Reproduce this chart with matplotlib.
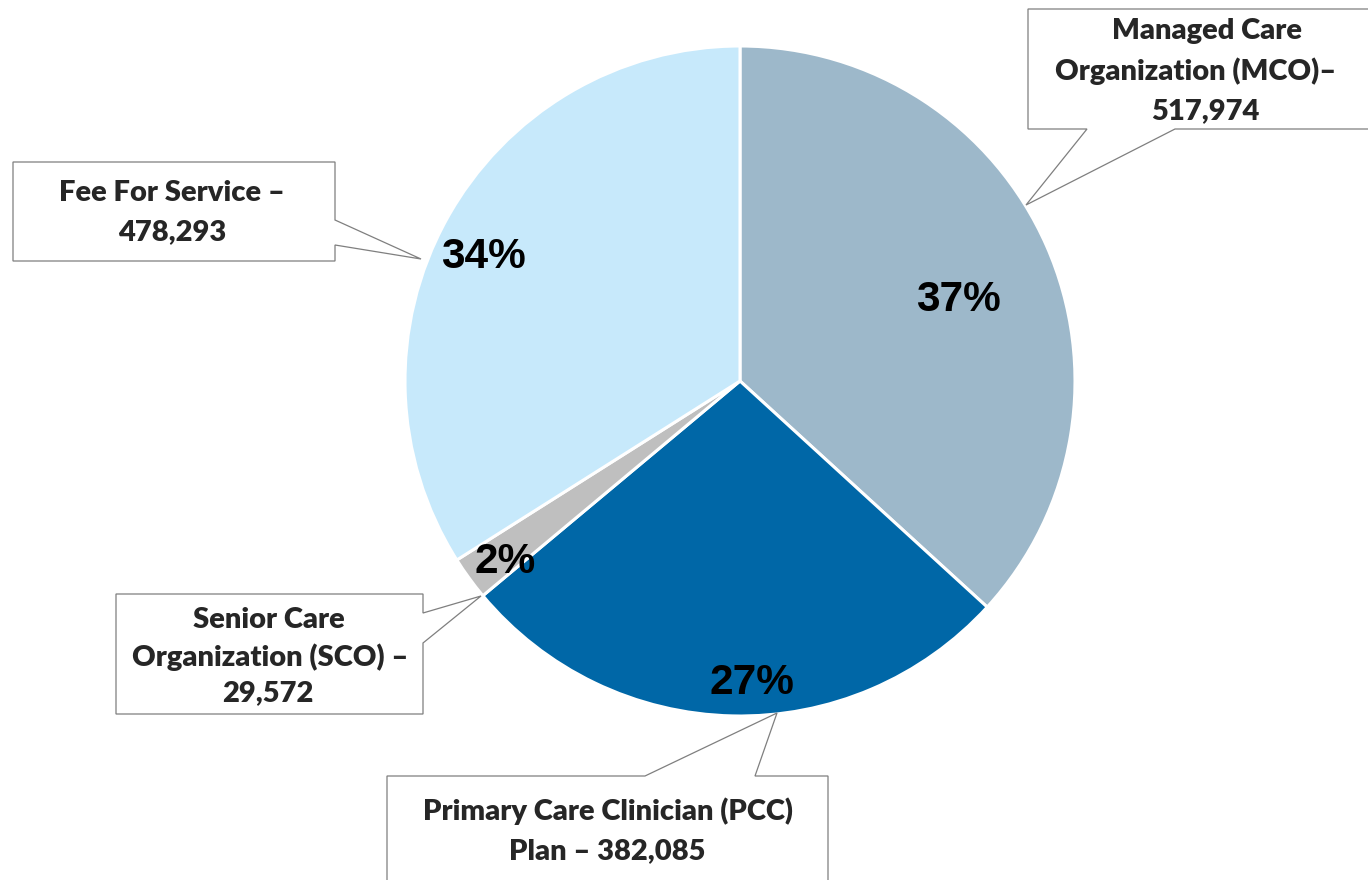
import numpy as np
import matplotlib
matplotlib.use("Agg")
import matplotlib.pyplot as plt
from matplotlib.patches import Polygon

# ---- data ----
categories = ["Managed Care Organization (MCO)", "Primary Care Clinician (PCC) Plan",
              "Senior Care Organization (SCO)", "Fee For Service"]
values = [517974, 382085, 29572, 478293]
colors = ["#9DB8CA", "#0067A7", "#BFBFBF", "#C7E9FB"]
callout_lines = [
    ["Managed Care", "Organization (MCO)\u2013", "517,974"],
    ["Primary Care Clinician (PCC)", "Plan \u2013 382,085"],
    ["Senior Care", "Organization (SCO) \u2013", "29,572"],
    ["Fee For Service \u2013", "478,293"],
]

W, H = 1368, 880
fig = plt.figure(figsize=(W / 100, H / 100), dpi=100)
ax = fig.add_axes([0, 0, 1, 1])

def P(x, y):
    return (x, H - y)

cx, cy = P(740, 381)
R = 335
wedges, _ = ax.pie(values, colors=colors, startangle=90, counterclock=False,
                   center=(cx, cy), radius=R,
                   wedgeprops=dict(edgecolor="white", linewidth=2.2))
ax.set_xlim(0, W)
ax.set_ylim(0, H)
ax.set_aspect("equal")
ax.axis("off")

# percent labels (layout: pixel positions)
total = sum(values)
pct_pos = [(958, 300), (752, 683), (505, 562), (483, 257)]
for v, (px, py) in zip(values, pct_pos):
    ax.text(*P(px, py), f"{round(v / total * 100)}%", ha="center", va="center",
            fontsize=30.5, fontweight="bold", family="Liberation Sans", color="black",
            zorder=5)

# callout shapes (layout in pixels)
callout_polys = [
    [(1028, 9), (1380, 9), (1380, 129), (1175, 129), (1026, 205), (1087, 129), (1028, 129)],
    [(387, 776), (645, 776), (777, 713), (755, 776), (828, 776), (828, 895), (387, 895)],
    [(116, 594), (423, 594), (423, 613), (481, 596), (423, 643), (423, 714), (116, 714)],
    [(13, 162), (335, 162), (335, 220), (421, 259), (335, 245), (335, 261), (13, 261)],
]
text_pos = [
    [(1207, 31), (1196, 71), (1205, 111)],
    [(608, 811), (607, 851)],
    [(269, 620), (270, 657), (268, 693)],
    [(172, 193), (172, 232)],
]
for poly, lines, tpos in zip(callout_polys, callout_lines, text_pos):
    ax.add_patch(Polygon([P(x, y) for x, y in poly], closed=True, facecolor="white",
                         edgecolor="#7F7F7F", linewidth=0.9, zorder=6))
    for line, (tx, ty) in zip(lines, tpos):
        ax.text(*P(tx, ty), line, ha="center", va="center", fontsize=21,
                fontweight="heavy", family="Lato", color="#262626", zorder=7)

fig.savefig("out.png", dpi=100, facecolor="white")
